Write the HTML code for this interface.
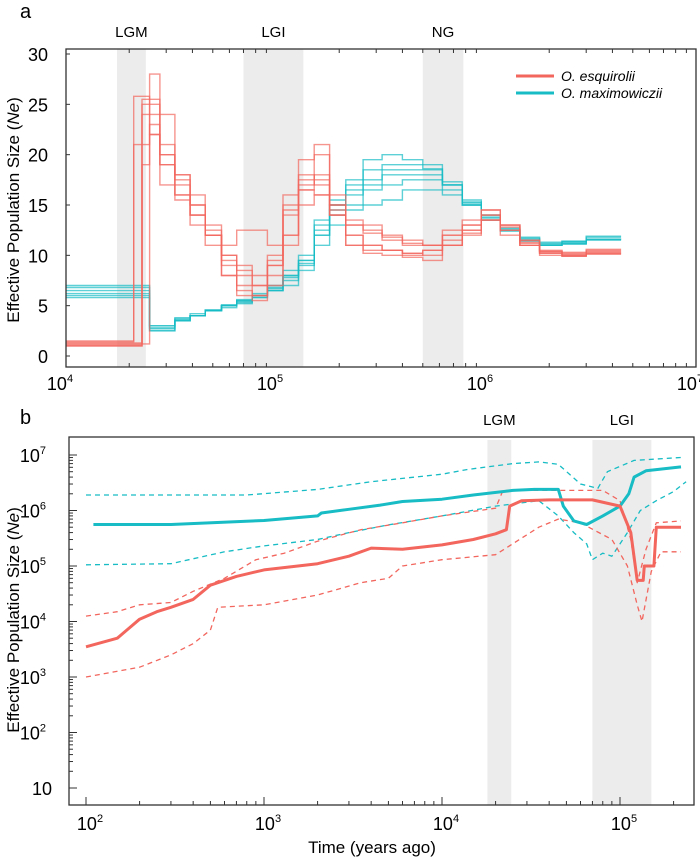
<!DOCTYPE html>
<html><head><meta charset="utf-8"><style>
html,body{margin:0;padding:0;background:#fff;}
svg{display:block;font-family:"Liberation Sans",sans-serif;}
</style></head><body>
<svg id="fig" width="700" height="859" viewBox="0 0 700 859" xmlns="http://www.w3.org/2000/svg"></svg>
<script>
// ---- Panel a data ----
const aTimes = [1e4,2.1e4,2.3e4,2.5e4,2.8e4,3.3e4,3.9e4,4.6e4,5.5e4,6.5e4,7.7e4,9.1e4,1.08e5,1.28e5,1.52e5,1.8e5,2.15e5,2.6e5,3.2e5,4e5,5e5,6.2e5,7.7e5,9.5e5,1.17e6,1.45e6,1.8e6,2.3e6,3e6,4.4e6];
const redReps = [
 [1,1,25.5,25.5,20,18,15,13,9.5,8,7,9,15,17.5,18,15,13.5,13,12,11.5,11,12,13,14,12.5,11,10.2,10,10.4],
 [1.5,25.8,25.8,22,19,16,14,12,9,7,6,8,12,18,17,14,13,12.5,11.5,11,11,12.5,13.5,14.5,12,11,10.5,10.3,10.6],
 [1.2,1.2,1.2,28,24,18,16,12,8,6,6,10,16,19.5,20,15,12,11,10.5,10.2,10.5,11.5,12.5,14,13,11.5,10.4,10.2,10.3],
 [1,1,24,24,21,17,15,12.5,10,8.5,7,9.5,14,16.5,17.5,14.5,11,10.5,10.5,10,10.5,11,12,13.5,13,11.5,10.2,9.9,10.1],
 [1.3,1.3,19,23,20,17.5,14,12,10,9,8,9,12,15,16,14,12,11,10.5,10.2,10,11,12.5,13.5,12.5,11,10.3,10,10.2],
 [1.4,21,21,22,19,16,13,11,8,6.5,5.5,7,11,17,21,16,13,12.2,11.8,11.2,11,12,13,14.5,13,11.2,10.4,10.1,10.5],
 [1.1,1.1,25,25,17,15.5,14,12,11,12.5,12.5,11,14.5,16.5,16,14,11,10.2,10,9.8,9.5,11,12.2,13.5,12.8,11.3,10,9.9,10.2]
];
const cyanReps = [
 [6,6,6,2.5,2.5,3.5,4,4.5,5,5.5,6,6.5,7,8.5,11,13,15,17,18.5,18.5,18.5,17,15,13.5,12.5,11.5,11,11.2,11.6],
 [6.5,6.5,6.5,3,3,3.5,4,4.5,5,5.5,5.8,6.5,8,9.5,12,15,17.5,19.5,20,19.5,19,17,15,14,12.5,11.5,11.2,11.4,11.8],
 [7,7,7,2.5,2.5,3.5,4,4.5,4.8,5.2,5.8,6.5,7.5,9,12.5,14,14.5,15,15.5,16.5,16.5,16,15,13.5,12.5,11.8,11.3,11.4,11.6],
 [6.2,6.2,6.2,3,3,3.8,4,4.6,5,5.3,6,6.8,8,9.5,13,15.5,16.5,17.5,18,18,18,17.3,15.5,14,12.7,11.6,11,11.1,11.5],
 [5.8,5.8,5.8,2.8,2.8,3.7,4.2,4.5,5,5.4,6.2,7,8.5,10,13.5,15,16,16.5,17,17.5,17.5,16.5,15.2,13.8,12.6,11.7,11.1,11.2,11.6],
 [6.8,6.8,6.8,2.7,2.7,3.6,4,4.5,5.1,5.6,6,6.7,7.8,9.2,12,14.5,17,18.5,19,19,18.6,17,15.3,13.7,12.4,11.4,11.0,11.3,11.9]
];
const aYTicks = [0,5,10,15,20,25,30];
const aXTickExp = [4,5,6,7];
const aBands = [["LGM",1.75e4,2.4e4],["LGI",7e4,1.35e5],["NG",5e5,7.8e5]];

// ---- Panel b data ----
const bCyanT = [110,300,1000,2000,2100,3000,4500,6000,10000,15000,25000,33000,45000,48000,55000,65000,80000,100000,112000,120000,140000,220000];
const bCyanN = [5.6e5,5.6e5,6.6e5,8e5,9e5,1.05e6,1.25e6,1.45e6,1.6e6,1.9e6,2.3e6,2.4e6,2.4e6,1.2e6,6.5e5,5.6e5,8e5,1.2e6,2e6,4e6,5.2e6,6.1e6];
const bRedT = [100,150,200,250,300,400,500,700,1000,2000,3000,4000,6000,10000,15000,20000,23000,24000,28000,40000,70000,100000,115000,125000,135000,137000,155000,160000,220000];
const bRedN = [3.5e3,5e3,1.1e4,1.5e4,1.8e4,2.5e4,4.5e4,6.5e4,8.5e4,1.1e5,1.5e5,2.1e5,2e5,2.4e5,3e5,3.8e5,4.5e5,1.2e6,1.5e6,1.55e6,1.55e6,1.2e6,4e5,5.5e4,5.5e4,1e5,1e5,5e5,5e5];
const bCyanUpT = [100,800,2000,4000,10000,14000,25000,35000,45000,60000,75000,85000,120000,220000];
const bCyanUpN = [1.9e6,1.9e6,2.4e6,3.3e6,4.5e6,5.5e6,7e6,7.5e6,6.8e6,3e6,2.5e6,5e6,8e6,9e6];
const bCyanLoT = [100,300,600,1000,2000,3000,5000,10000,20000,35000,45000,55000,65000,70000,80000,90000,110000,130000,160000,200000,235000];
const bCyanLoN = [1.05e5,1.1e5,1.8e5,2.3e5,3e5,4e5,5.5e5,8e5,1.2e6,1.5e6,8e5,4e5,2.5e5,1.3e5,1.7e5,1.5e5,4e5,1e6,1.5e6,2.2e6,3.3e6];
const bRedUpT = [100,150,200,300,400,600,900,1300,2000,3500,6000,10000,20000,22000,40000,80000,100000,115000,125000,140000,160000,220000];
const bRedUpN = [1.25e4,1.5e4,2e4,2.2e4,3.5e4,6e4,1.3e5,1.7e5,2.8e5,4.5e5,6e5,8e5,1.1e6,2.3e6,2.3e6,2.3e6,1.5e6,3e5,5e4,2e5,6e5,6.5e5];
const bRedLoT = [100,200,300,400,500,550,1000,2000,3500,5000,6000,10000,20000,35000,45000,60000,90000,110000,125000,133000,150000,170000,220000];
const bRedLoN = [1e3,1.5e3,2.5e3,4e3,7e3,1.8e4,2e4,3e4,5e4,6e4,1e5,1.3e5,1.6e5,5e5,7e5,6e5,3e5,1e5,2e4,1e4,8e4,1.8e5,1.8e5];
const bYTickExp = [1,2,3,4,5,6,7];
const bXTickExp = [2,3,4,5];
const bBands = [["LGM",1.8e4,2.45e4],["LGI",7e4,1.5e5]];

const RED = "#f2665e", CYAN = "#17bcc4";
const NS = "http://www.w3.org/2000/svg";
const svg = document.getElementById("fig");
function mk(tag, attrs, parent, text){
  const e = document.createElementNS(NS, tag);
  for (const k in attrs) e.setAttribute(k, attrs[k]);
  if (text !== undefined) e.textContent = text;
  (parent||svg).appendChild(e);
  return e;
}
// ---- panel a scales ----
const ax = t => 66 + 210 * (Math.log10(t) - 4);
const ay = v => 356 - v * (302/30);
// ---- panel b scales ----
const bx = t => 86 + 178 * (Math.log10(t) - 2);
const by = n => 788 - 55.5 * (Math.log10(n) - 1);

// Panel labels
let e;
e = mk("text",{x:20,y:18,"font-size":20},svg,"a");


e = mk("text",{x:20,y:424,"font-size":20},svg,"b");



// ===== Panel A =====
const gA = mk("g",{});


aBands.forEach(b=>{
  const r = mk("rect",{x:ax(b[1]),y:49,width:ax(b[2])-ax(b[1]),height:318,fill:"#ececec"},gA);
  
  
  const t = mk("text",{x:(ax(b[1])+ax(b[2]))/2,y:37,"font-size":15,"text-anchor":"middle"},gA,b[0]);
  
  
});
function stepPath(times, vals, fx, fy){
  let d = "M"+fx(times[0]).toFixed(1)+","+fy(vals[0]).toFixed(1);
  for (let i=0;i<vals.length;i++){
    d += "H"+fx(times[i+1]).toFixed(1);
    if (i+1<vals.length) d += "V"+fy(vals[i+1]).toFixed(1);
  }
  return d;
}
cyanReps.forEach((v,i)=>{
  const p = mk("path",{d:stepPath(aTimes,v,ax,ay),fill:"none",stroke:CYAN,"stroke-width":1.4,"stroke-opacity":0.7},gA);
  
  
});
redReps.forEach((v,i)=>{
  const p = mk("path",{d:stepPath(aTimes,v,ax,ay),fill:"none",stroke:RED,"stroke-width":1.4,"stroke-opacity":0.7},gA);
  
  
});
e = mk("rect",{x:66,y:49,width:630,height:318,fill:"none",stroke:"#333","stroke-width":1.3},gA);


aYTicks.forEach(v=>{
  const t = mk("text",{x:48,y:ay(v)+7,"font-size":18,"text-anchor":"end"},gA,String(v));
  
  
  const l = mk("line",{x1:66,x2:70,y1:ay(v),y2:ay(v),stroke:"#333"},gA);
  
  
});
aXTickExp.forEach(k=>{
  const t = mk("text",{x:ax(Math.pow(10,k))-6,y:390,"font-size":18,"text-anchor":"middle"},gA);
  
  
  mk("tspan",{},t,"10");
  mk("tspan",{"font-size":11,dy:-8},t,String(k));
  for (let m=2;m<10 && k<7;m++){
    const x = ax(m*Math.pow(10,k));
    const l = mk("line",{x1:x,x2:x,y1:367,y2:363,stroke:"#333"},gA);
    
    
    const l2 = mk("line",{x1:x,x2:x,y1:49,y2:53,stroke:"#333"},gA);
    
    
  }
});
e = mk("text",{transform:"translate(19,210) rotate(-90)","font-size":17,"text-anchor":"middle"},gA);


mk("tspan",{},e,"Effective Population Size (");
mk("tspan",{"font-style":"italic"},e,"Ne");
mk("tspan",{},e,")");
// legend
[["O. esquirolii",RED,76],["O. maximowiczii",CYAN,93]].forEach(L=>{
  const l = mk("line",{x1:516,x2:554,y1:L[2],y2:L[2],stroke:L[1],"stroke-width":3},gA);
  
  
  const t = mk("text",{x:561,y:L[2]+5,"font-size":14,"font-style":"italic"},gA,L[0]);
  
  
});

// ===== Panel B =====
const gB = mk("g",{});


bBands.forEach(b=>{
  const r = mk("rect",{x:bx(b[1]),y:440,width:bx(b[2])-bx(b[1]),height:365,fill:"#ececec"},gB);
  
  
  const t = mk("text",{x:(bx(b[1])+bx(b[2]))/2,y:425,"font-size":15,"text-anchor":"middle"},gB,b[0]);
  
  
});
function linePath(T,N){
  return T.map((t,i)=>(i?"L":"M")+bx(t).toFixed(1)+","+by(N[i]).toFixed(1)).join("");
}
const series = [
  ["maximowiczii-upper-ci",bCyanUpT,bCyanUpN,CYAN,1.3,"5,4"],
  ["maximowiczii-lower-ci",bCyanLoT,bCyanLoN,CYAN,1.3,"5,4"],
  ["esquirolii-upper-ci",bRedUpT,bRedUpN,RED,1.3,"5,4"],
  ["esquirolii-lower-ci",bRedLoT,bRedLoN,RED,1.3,"5,4"],
  ["maximowiczii-median",bCyanT,bCyanN,CYAN,3,""],
  ["esquirolii-median",bRedT,bRedN,RED,3,""]
];
series.forEach(s=>{
  const p = mk("path",{d:linePath(s[1],s[2]),fill:"none",stroke:s[3],"stroke-width":s[4],"stroke-dasharray":s[5],"stroke-linejoin":"round"},gB);
  
  
});
e = mk("rect",{x:69,y:437,width:625,height:368,fill:"none",stroke:"#333","stroke-width":1.3},gB);


bYTickExp.forEach(k=>{
  const y = by(Math.pow(10,k));
  const t = mk("text",{x:k===1?52:46,y:y+7,"font-size":18,"text-anchor":"end"},gB);
  
  
  mk("tspan",{},t,"10");
  if (k>1) mk("tspan",{"font-size":11,dy:-8},t,String(k));
  const l = mk("line",{x1:69,x2:77,y1:y,y2:y,stroke:"#333"},gB);
  
  
  for (let m=2;m<10 && k<7;m++){
    const ym = by(m*Math.pow(10,k));
    const lm = mk("line",{x1:69,x2:73,y1:ym,y2:ym,stroke:"#333"},gB);
    
    
  }
});
bXTickExp.forEach(k=>{
  const x = bx(Math.pow(10,k));
  const t = mk("text",{x:x+4,y:830,"font-size":18,"text-anchor":"middle"},gB);
  
  
  mk("tspan",{},t,"10");
  mk("tspan",{"font-size":11,dy:-8},t,String(k));
  const l = mk("line",{x1:x,x2:x,y1:805,y2:797,stroke:"#333"},gB);
  
  
  for (let m=2;m<10;m++){
    const xm = bx(m*Math.pow(10,k));
    if (xm>690) break;
    const lm = mk("line",{x1:xm,x2:xm,y1:805,y2:801,stroke:"#333"},gB);
    
    
  }
});
e = mk("text",{transform:"translate(19,620) rotate(-90)","font-size":17,"text-anchor":"middle"},gB);


mk("tspan",{},e,"Effective Population Size (");
mk("tspan",{"font-style":"italic"},e,"Ne");
mk("tspan",{},e,")");
e = mk("text",{x:372,y:853,"font-size":17,"text-anchor":"middle"},gB,"Time (years ago)");


</script>
</body></html>
